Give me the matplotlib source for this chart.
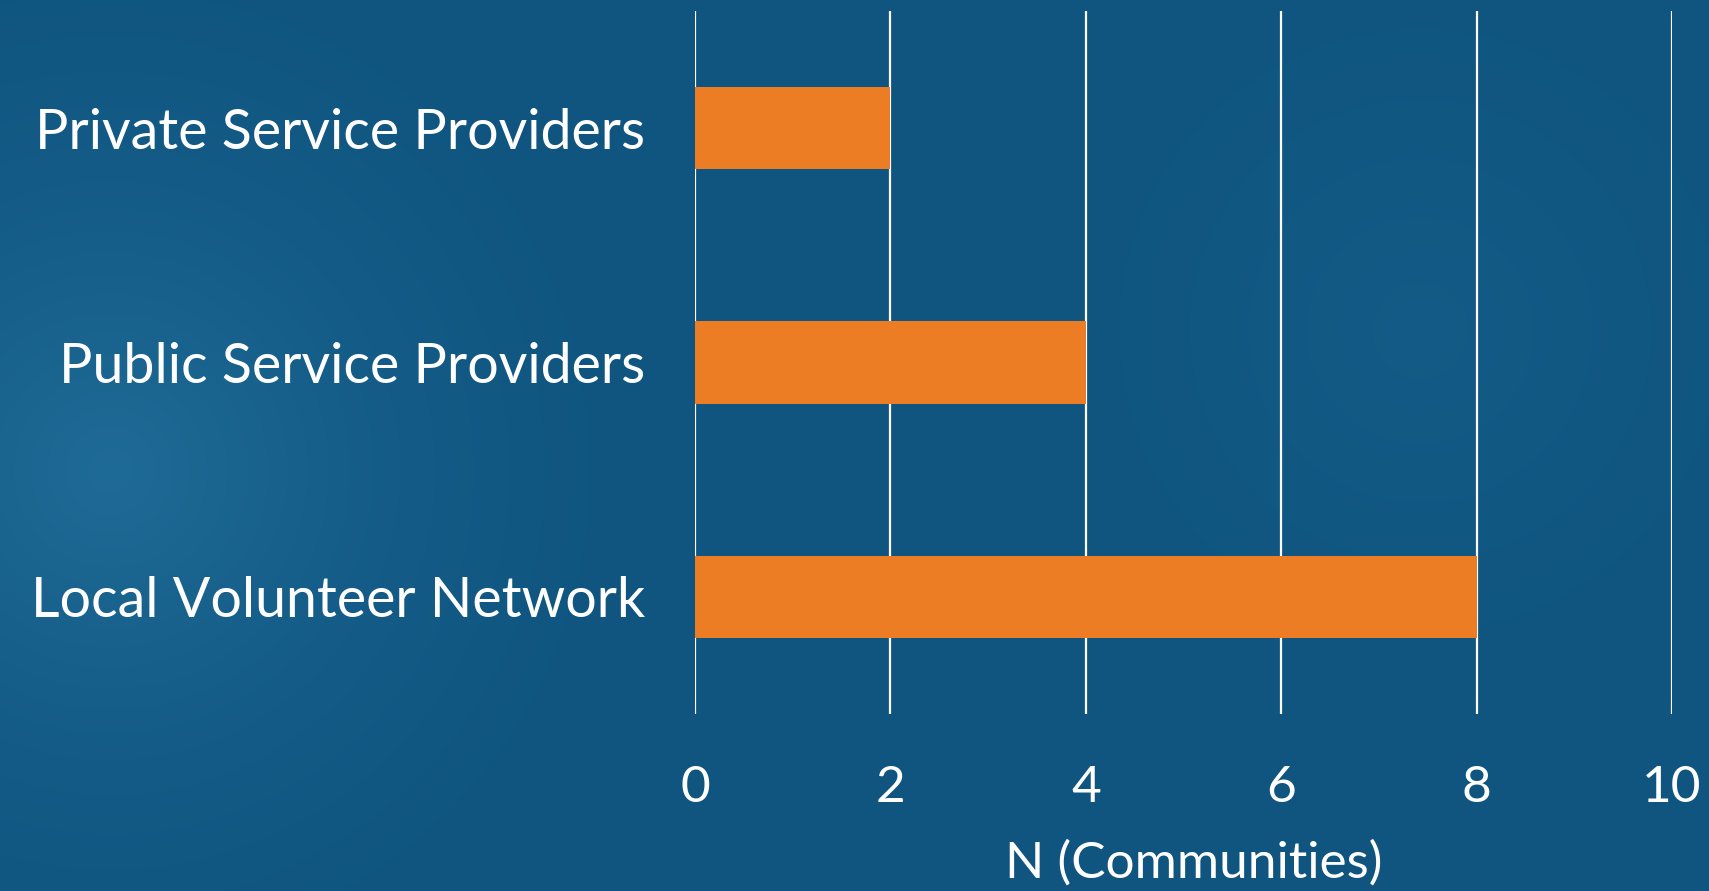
import numpy as np
import matplotlib
matplotlib.use('Agg')
import matplotlib.pyplot as plt

categories = ["Local Volunteer Network", "Public Service Providers", "Private Service Providers"]
counts = [8, 4, 2]
xticks = [0, 2, 4, 6, 8, 10]

ORANGE = '#ED7D24'
BASE = np.array([15, 85, 128]) / 255.0
LIGHT = np.array([31, 107, 151]) / 255.0

plt.rcParams.update({'font.family': ['Lato', 'DejaVu Sans']})

fig = plt.figure(figsize=(17.09, 8.91), dpi=100)

# background: dark blue with a soft lighter glow on the left
bg = fig.add_axes([0, 0, 1, 1], zorder=-1)
W, H = 1709, 891
yy, xx = np.mgrid[0:H, 0:W]
d1 = np.sqrt((xx - 110) ** 2 + (yy - 470) ** 2) / 560.0
d2 = np.sqrt((xx - 1420) ** 2 + (yy - 330) ** 2) / 420.0
w = np.clip(1 - d1, 0, 1) ** 1.6 + 0.3 * np.clip(1 - d2, 0, 1) ** 1.5
w = np.clip(w, 0, 1)[..., None]
img = BASE * (1 - w) + LIGHT * w
bg.imshow(img, aspect='auto', extent=[0, 1, 0, 1])
bg.axis('off')

ax = fig.add_axes([695 / W, 1 - 714 / H, 977 / W, 703 / H])
ax.patch.set_alpha(0)
y = np.arange(len(categories))
ax.barh(y, counts, height=0.35, color=ORANGE, zorder=3)
ax.set_xlim(0, 10)
ax.set_ylim(-0.5, 2.5)
ax.set_xticks(xticks)
ax.set_yticks(y)
ax.set_yticklabels(categories)
for s in ax.spines.values():
    s.set_visible(False)
ax.grid(axis='x', color='white', linewidth=1.6, zorder=2)
ax.tick_params(axis='both', length=0, colors='white')
ax.tick_params(axis='x', labelsize=37, pad=37)
ax.tick_params(axis='y', labelsize=40, pad=36)
ax.set_xlabel('N (Communities)', fontsize=37, color='white')
ax.xaxis.set_label_coords(0.511, -0.212)
ax.xaxis.label.set_va('center')

fig.savefig('out.png', dpi=100)
